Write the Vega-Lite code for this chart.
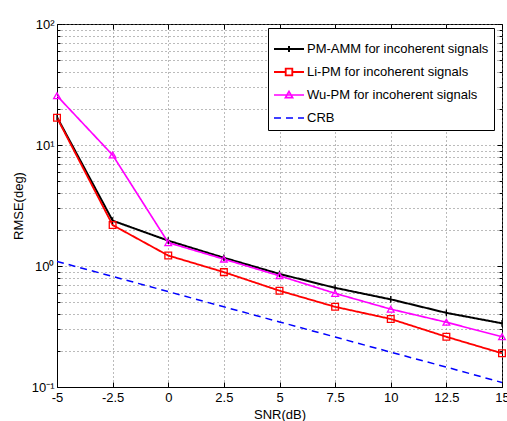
{
  "$schema": "https://vega.github.io/schema/vega-lite/v6.json",
  "width": 445,
  "height": 363,
  "autosize": "none",
  "padding": {"left": 57, "top": 24, "right": 5, "bottom": 34},
  "background": "white",
  "config": {
    "view": {"stroke": "black", "strokeWidth": 1},
    "font": "Liberation Sans",
    "axis": {"labelFont": "Liberation Sans", "titleFont": "Liberation Sans", "labelColor": "black", "titleColor": "black", "labelFontSize": 13, "titleFontSize": 13, "titleFontWeight": "normal", "domainColor": "black", "tickColor": "black", "gridColor": "#777777", "gridDash": [1, 3], "gridWidth": 1, "gridOpacity": 1},
    "legend": {"orient": "none", "legendX": 211, "legendY": 4, "title": null, "symbolSize": 900, "rowPadding": -13, "symbolOpacity": 1, "symbolStrokeWidth": 1.5, "symbolFillColor": "transparent", "labelFontSize": 13, "labelFont": "Liberation Sans", "labelColor": "black", "labelOffset": 2, "labelLimit": 300, "strokeColor": "black", "fillColor": "white", "padding": 5, "cornerRadius": 0}
  },
  "data": {"values": [
    {"snr": -5, "rmse": 17.0, "method": "PM-AMM for incoherent signals"},
    {"snr": -2.5, "rmse": 2.37, "method": "PM-AMM for incoherent signals"},
    {"snr": 0, "rmse": 1.62, "method": "PM-AMM for incoherent signals"},
    {"snr": 2.5, "rmse": 1.17, "method": "PM-AMM for incoherent signals"},
    {"snr": 5, "rmse": 0.86, "method": "PM-AMM for incoherent signals"},
    {"snr": 7.5, "rmse": 0.66, "method": "PM-AMM for incoherent signals"},
    {"snr": 10, "rmse": 0.53, "method": "PM-AMM for incoherent signals"},
    {"snr": 12.5, "rmse": 0.41, "method": "PM-AMM for incoherent signals"},
    {"snr": 15, "rmse": 0.336, "method": "PM-AMM for incoherent signals"},
    {"snr": -5, "rmse": 16.8, "method": "Li-PM for incoherent signals"},
    {"snr": -2.5, "rmse": 2.18, "method": "Li-PM for incoherent signals"},
    {"snr": 0, "rmse": 1.22, "method": "Li-PM for incoherent signals"},
    {"snr": 2.5, "rmse": 0.89, "method": "Li-PM for incoherent signals"},
    {"snr": 5, "rmse": 0.625, "method": "Li-PM for incoherent signals"},
    {"snr": 7.5, "rmse": 0.46, "method": "Li-PM for incoherent signals"},
    {"snr": 10, "rmse": 0.365, "method": "Li-PM for incoherent signals"},
    {"snr": 12.5, "rmse": 0.26, "method": "Li-PM for incoherent signals"},
    {"snr": 15, "rmse": 0.19, "method": "Li-PM for incoherent signals"},
    {"snr": -5, "rmse": 25.5, "method": "Wu-PM for incoherent signals"},
    {"snr": -2.5, "rmse": 8.26, "method": "Wu-PM for incoherent signals"},
    {"snr": 0, "rmse": 1.56, "method": "Wu-PM for incoherent signals"},
    {"snr": 2.5, "rmse": 1.14, "method": "Wu-PM for incoherent signals"},
    {"snr": 5, "rmse": 0.83, "method": "Wu-PM for incoherent signals"},
    {"snr": 7.5, "rmse": 0.594, "method": "Wu-PM for incoherent signals"},
    {"snr": 10, "rmse": 0.44, "method": "Wu-PM for incoherent signals"},
    {"snr": 12.5, "rmse": 0.343, "method": "Wu-PM for incoherent signals"},
    {"snr": 15, "rmse": 0.26, "method": "Wu-PM for incoherent signals"},
    {"snr": -5, "rmse": 1.09, "method": "CRB"},
    {"snr": -2.5, "rmse": 0.82, "method": "CRB"},
    {"snr": 0, "rmse": 0.614, "method": "CRB"},
    {"snr": 2.5, "rmse": 0.46, "method": "CRB"},
    {"snr": 5, "rmse": 0.345, "method": "CRB"},
    {"snr": 7.5, "rmse": 0.259, "method": "CRB"},
    {"snr": 10, "rmse": 0.194, "method": "CRB"},
    {"snr": 12.5, "rmse": 0.146, "method": "CRB"},
    {"snr": 15, "rmse": 0.109, "method": "CRB"}
  ]},
  "layer": [
    {
      "mark": {"type": "line", "clip": true},
      "encoding": {
        "x": {"field": "snr", "type": "quantitative", "scale": {"domain": [-5, 15], "nice": false, "zero": false},
          "axis": {"title": "SNR(dB)", "values": [-5, -2.5, 0, 2.5, 5, 7.5, 10, 12.5, 15], "labelExpr": "'' + datum.value", "tickSize": -5, "labelPadding": 9, "titlePadding": 4, "grid": true, "labelFlush": false}},
        "y": {"field": "rmse", "type": "quantitative", "scale": {"type": "log", "domain": [0.1, 100], "nice": false},
          "axis": {"title": "RMSE(deg)", "values": [0.1,0.2,0.3,0.4,0.5,0.6,0.7,0.8,0.9,1,2,3,4,5,6,7,8,9,10,20,30,40,50,60,70,80,90,100],
            "labelExpr": "datum.value == 100 ? '10²' : datum.value == 10 ? '10¹' : datum.value == 1 ? '10⁰' : datum.value == 0.1 ? '10⁻¹' : ''",
            "tickSize": {"condition": {"test": "datum.value == 100 || datum.value == 10 || datum.value == 1 || datum.value == 0.1", "value": -5}, "value": -3},
            "labelPadding": 8, "titlePadding": 6, "grid": true, "labelFlush": false}},
        "color": {"field": "method", "type": "nominal", "title": null,
          "scale": {"domain": ["PM-AMM for incoherent signals", "Li-PM for incoherent signals", "Wu-PM for incoherent signals", "CRB"], "range": ["#000000", "#ff0000", "#ff00ff", "#0000ff"]}},
        "strokeDash": {"field": "method", "type": "nominal", "title": null,
          "scale": {"domain": ["PM-AMM for incoherent signals", "Li-PM for incoherent signals", "Wu-PM for incoherent signals", "CRB"], "range": [[1, 0], [1, 0], [1, 0], [7, 5]]}},
        "strokeWidth": {"field": "method", "type": "nominal", "title": null,
          "scale": {"domain": ["PM-AMM for incoherent signals", "Li-PM for incoherent signals", "Wu-PM for incoherent signals", "CRB"], "range": [2, 1.5, 2, 2]}}
      }
    },
    {
      "transform": [{"filter": "datum.method == 'PM-AMM for incoherent signals'"}],
      "mark": {"type": "point", "shape": "M0,-1V1", "filled": false, "strokeWidth": 1.3, "size": 45, "opacity": 1},
      "encoding": {
        "x": {"field": "snr", "type": "quantitative", "axis": {"orient": "top", "title": null, "labels": false, "grid": false, "domain": false, "tickSize": -5, "values": [-5, -2.5, 0, 2.5, 5, 7.5, 10, 12.5, 15]}},
        "y": {"field": "rmse", "type": "quantitative", "axis": {"orient": "right", "title": null, "labels": false, "grid": false, "domain": false, "values": [0.1,0.2,0.3,0.4,0.5,0.6,0.7,0.8,0.9,1,2,3,4,5,6,7,8,9,10,20,30,40,50,60,70,80,90,100],
            "tickSize": {"condition": {"test": "datum.value == 100 || datum.value == 10 || datum.value == 1 || datum.value == 0.1", "value": -5}, "value": -3}}},
        "color": {"field": "method", "type": "nominal", "title": null}
      }
    },
    {
      "transform": [{"filter": "datum.method == 'Li-PM for incoherent signals'"}],
      "mark": {"type": "point", "shape": "square", "filled": false, "strokeWidth": 1.3, "size": 45, "opacity": 1},
      "encoding": {
        "x": {"field": "snr", "type": "quantitative", "axis": null},
        "y": {"field": "rmse", "type": "quantitative", "axis": null},
        "color": {"field": "method", "type": "nominal", "title": null}
      }
    },
    {
      "transform": [{"filter": "datum.method == 'Wu-PM for incoherent signals'"}],
      "mark": {"type": "point", "shape": "triangle-up", "filled": false, "strokeWidth": 1.3, "size": 45, "opacity": 1},
      "encoding": {
        "x": {"field": "snr", "type": "quantitative", "axis": null},
        "y": {"field": "rmse", "type": "quantitative", "axis": null},
        "color": {"field": "method", "type": "nominal", "title": null}
      }
    },
    {
      "transform": [{"filter": "datum.snr > 100"}],
      "mark": {"type": "point", "filled": false, "opacity": 1},
      "encoding": {
        "x": {"field": "snr", "type": "quantitative", "axis": null},
        "y": {"field": "rmse", "type": "quantitative", "axis": null},
        "color": {"field": "method", "type": "nominal", "title": null},
        "shape": {"field": "method", "type": "nominal", "title": null,
          "scale": {"domain": ["PM-AMM for incoherent signals", "Li-PM for incoherent signals", "Wu-PM for incoherent signals", "CRB"],
            "range": ["M-1,0H1M0,-0.2V0.2", "M-1,0H-0.22M0.22,0H1M-0.22,-0.22H0.22V0.22H-0.22Z", "M-1,0H1M-0.24,0.18L0,-0.24L0.24,0.18Z", "M-1,0H1"]}}
      }
    }
  ],
  "resolve": {"axis": {"x": "independent", "y": "independent"}}
}
